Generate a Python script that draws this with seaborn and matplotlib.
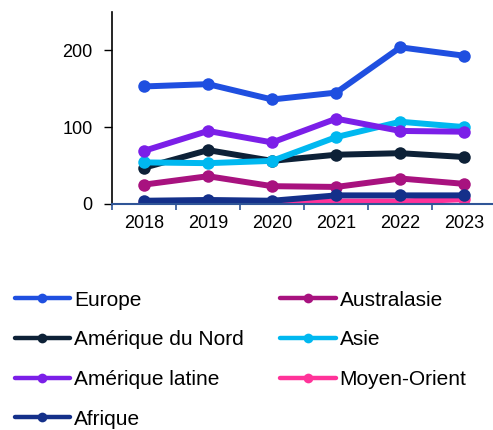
import seaborn as sns
import matplotlib.pyplot as plt
import pandas as pd

# data
years = ['2018', '2019', '2020', '2021', '2022', '2023']
europe = [153, 156, 136, 145, 204, 193]
australasie = [25, 36, 23, 22, 33, 26]
amerique_nord = [47, 70, 56, 64, 66, 61]
asie = [54, 53, 56, 87, 107, 100]
amerique_latine = [69, 95, 80, 111, 95, 94]
moyen_orient = [1, 1, 2, 3, 3, 6]
afrique = [4, 5, 4, 11, 11, 11]

# drawing order (later = on top)
regions = ['Europe', 'Australasie', 'Amérique du Nord', 'Asie',
           'Amérique latine', 'Moyen-Orient', 'Afrique']
series = [europe, australasie, amerique_nord, asie,
          amerique_latine, moyen_orient, afrique]
colors = ['#1F4FE0', '#A8127F', '#0D2137', '#00B8F0',
          '#7B1FE8', '#FF3399', '#14308A']

# legend order (two columns, filled column by column)
legend_order = ['Europe', 'Amérique du Nord', 'Amérique latine', 'Afrique',
                'Australasie', 'Asie', 'Moyen-Orient']

rows = []
for name, vals in zip(regions, series):
    for y, v in zip(years, vals):
        rows.append({'Année': y, 'Valeur': v, 'Région': name})
df = pd.DataFrame(rows)

sns.set_style('white', {'xtick.bottom': True, 'ytick.left': True,
                        'text.color': 'black', 'xtick.color': 'black',
                        'ytick.color': 'black'})
plt.rcParams['font.family'] = ['Liberation Sans', 'DejaVu Sans']

fig = plt.figure(figsize=(4.93, 4.30), dpi=100)
ax = fig.add_axes([0.227, 0.526, 0.78, 0.446])

sns.lineplot(data=df, x='Année', y='Valeur', hue='Région', hue_order=regions,
             palette=colors, marker='o', markersize=9, markeredgewidth=0,
             linewidth=4.3, ax=ax, legend=False)

ax.set_xlim(-0.5, 5.5)
ax.set_ylim(0, 250)
ax.set_yticks([0, 100, 200])
# ticks between the categories, labels centred on them
ax.set_xticks([i - 0.5 for i in range(6)])
ax.set_xticklabels([])
ax.set_xticks(range(6), minor=True)
ax.set_xticklabels(years, minor=True)
ax.tick_params(axis='x', which='major', direction='out', length=4, color='#2F5597', width=1.2)
ax.tick_params(axis='x', which='minor', length=0, labelsize=13, pad=8, labelcolor='black')
ax.tick_params(axis='y', direction='out', length=6, width=1, color='black',
               labelsize=13, pad=8, labelcolor='black')
ax.set_xlabel('')
ax.set_ylabel('')

for side in ['top', 'right']:
    ax.spines[side].set_visible(False)
ax.spines['left'].set_color('black')
ax.spines['left'].set_linewidth(1.2)
ax.spines['bottom'].set_color('#2F5597')
ax.spines['bottom'].set_linewidth(1.5)

# legend below the plot
lines = {name: ln for name, ln in zip(regions, ax.get_lines())}
handles = [plt.Line2D([], [], color=lines[n].get_color(), lw=3.2, marker='o',
                      markersize=7, markeredgewidth=0) for n in legend_order]
fig.legend(handles, legend_order, ncol=2, loc='upper left',
           bbox_to_anchor=(0.03, 0.324), frameon=False, fontsize=15,
           borderpad=0, borderaxespad=0, labelcolor='black',
           handlelength=2.65, handletextpad=0.2, columnspacing=1.75,
           labelspacing=0.99)

fig.savefig('out.png', dpi=100)
